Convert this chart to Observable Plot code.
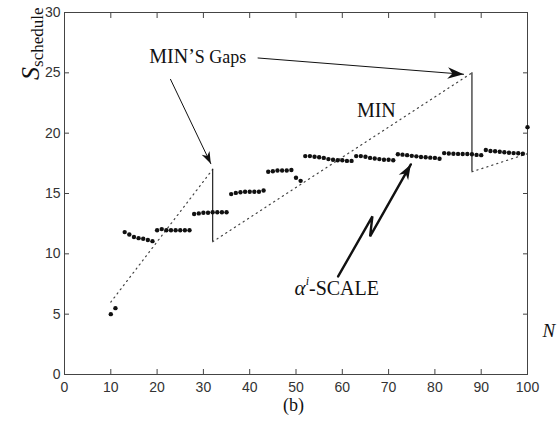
<!DOCTYPE html>
<html><head><meta charset="utf-8">
<script src="https://cdn.jsdelivr.net/npm/d3@7"></script>
<script src="https://cdn.jsdelivr.net/npm/@observablehq/plot@0.6"></script>
<style>body{margin:0;background:#fff;} svg{display:block;}</style>
</head><body><div id="chart"></div>
<script>
// ---- data ----
const nValues = [10,11,13,14,15,16,17,18,19,20,21,22,23,24,25,26,27,28,29,30,31,32,33,34,35,36,37,38,39,40,41,42,43,44,45,46,47,48,49,50,51,52,53,54,55,56,57,58,59,60,61,62,63,64,65,66,67,68,69,70,71,72,73,74,75,76,77,78,79,80,81,82,83,84,85,86,87,88,89,90,91,92,93,94,95,96,97,98,99,100];
const sValues = [5.0,5.5,11.8,11.6,11.4,11.3,11.25,11.15,11.05,11.95,12.05,11.95,11.95,11.95,11.95,11.95,11.95,13.3,13.35,13.4,13.4,13.45,13.45,13.45,13.45,14.95,15.05,15.1,15.15,15.15,15.15,15.15,15.25,16.8,16.85,16.9,16.9,16.9,16.95,16.3,16.05,18.1,18.1,18.05,18.0,17.95,17.85,17.8,17.75,17.75,17.7,17.7,18.1,18.1,18.05,17.95,17.9,17.85,17.8,17.8,17.75,18.25,18.22,18.18,18.12,18.08,18.03,18.0,17.97,17.95,17.88,18.35,18.32,18.3,18.28,18.27,18.27,18.25,18.2,18.18,18.6,18.52,18.5,18.46,18.42,18.38,18.35,18.33,18.3,20.5];
const xTicks = [0,10,20,30,40,50,60,70,80,90,100];
const yTicks = [0,5,10,15,20,25,30];
// MIN curve (dotted), three segments
const minSegment = [1,1,2,2,3,3];
const minN = [10,32,32,88,88,100];
const minS = [6,17,11,25,16.8,18.3];
// MIN's gaps (vertical lines)
const gapN = [32,88];
const gapLow = [11,16.8];
const gapHigh = [17,25];
// annotation texts
const labelText = ["MIN’S Gaps","MIN","α^i-SCALE"];
const labelN = [28.8,67.35,49.7];
const labelS = [26.35,21.87,7.08];
// annotation arrows (polylines, last point = tip)
const arrowId = [1,1,2,2,3,3,3,3];
const arrowN = [22.9,31.6,41.8,86.2,59.1,66.5,66.0,74.8];
const arrowS = [24.46,17.47,26.23,24.88,8.13,13.1,11.44,17.41];
const xLabel = "N";
const yLabel = "Sschedule";
const caption = "(b)";

// ---- layout ----
const width = 559, height = 421, mL = 64, mR = 32, mT = 12, mB = 47;
const kx = (width - mL - mR) / 100, ky = (height - mT - mB) / 30;

const points = nValues.map((n, i) => ({n, s: sValues[i]}));
const minLine = minN.map((n, i) => ({n, s: minS[i], seg: minSegment[i]}));
const gaps = gapN.map((n, i) => ({n, lo: gapLow[i], hi: gapHigh[i]}));
const arrows = arrowN.map((n, i) => ({n, s: arrowS[i], id: arrowId[i]}));
const arrowIds = [...new Set(arrowId)];
const heads = arrowIds.map(id => {
  const pts = arrows.filter(d => d.id === id);
  const a = pts[pts.length - 2], b = pts[pts.length - 1];
  const ang = Math.atan2(-(b.s - a.s) * ky, (b.n - a.n) * kx) * 180 / Math.PI;
  return {id, n: b.n, s: b.s, angle: ang};
});
const headSize = {1: 12, 2: 16, 3: 15};
const arrowWidth = {1: 1, 2: 1, 3: 2.4};

const headSymbol = {
  draw(context, size) {
    const L = Math.sqrt(size / Math.PI);
    const w = L * 0.36;
    context.moveTo(0, 0);
    context.lineTo(-L, -w);
    context.lineTo(-0.7 * L, 0);
    context.lineTo(-L, w);
    context.closePath();
  }
};

const serif = "Liberation Serif, Times New Roman, serif";
const sans = "Liberation Sans, Arial, sans-serif";

const chart = Plot.plot({
  width, height, marginLeft: mL, marginRight: mR, marginTop: mT, marginBottom: mB,
  x: {domain: [0, 100]},
  y: {domain: [0, 30]},
  style: {background: "white", color: "#333", fontFamily: sans},
  marks: [
    Plot.axisX(xTicks, {anchor: "bottom", tickSize: -5, tickFormat: () => "", label: null, stroke: "#444"}),
    Plot.axisX(xTicks, {anchor: "top", tickSize: -5, tickFormat: () => "", label: null, stroke: "#444"}),
    Plot.axisY(yTicks, {anchor: "left", tickSize: -5, tickFormat: () => "", label: null, stroke: "#444"}),
    Plot.axisY(yTicks, {anchor: "right", tickSize: -5, tickFormat: () => "", label: null, stroke: "#444"}),
    Plot.axisX(xTicks, {anchor: "bottom", tickSize: 0, tickPadding: 8, label: null, fontSize: 14, fill: "#333"}),
    Plot.axisY(yTicks, {anchor: "left", tickSize: 0, tickPadding: 4, label: null, fontSize: 14, fill: "#333"}),
    Plot.frame({stroke: "#444"}),
    Plot.line(minLine, {x: "n", y: "s", z: "seg", stroke: "#444", strokeWidth: 1.2, strokeDasharray: "1.2,4"}),
    Plot.ruleX(gaps, {x: "n", y1: "lo", y2: "hi", stroke: "#222", strokeWidth: 1.2}),
    Plot.dot(points, {x: "n", y: "s", r: 2.2, fill: "#111", stroke: "none"}),
    ...arrowIds.map(id => Plot.line(arrows.filter(d => d.id === id), {x: "n", y: "s", stroke: "#111", strokeWidth: arrowWidth[id], strokeLinejoin: "miter"})),
    ...heads.map(h => Plot.dot([h], {x: "n", y: "s", rotate: "angle", r: headSize[h.id], symbol: headSymbol, fill: "#111", stroke: "none"})),
    ...labelText.map((t, i) => Plot.text([t], {x: () => labelN[i], y: () => labelS[i], text: d => d, textAnchor: i === 2 ? "start" : "middle", fontFamily: serif, fontSize: 20, fill: "#111"})),
    Plot.text([xLabel], {frameAnchor: "bottom-right", text: d => d, textAnchor: "start", dx: 15, dy: -38, fontFamily: serif, fontStyle: "italic", fontSize: 19, fill: "#111"}),
    Plot.text([caption], {frameAnchor: "bottom", text: d => d, dx: -2.5, dy: 36, fontFamily: serif, fontSize: 18, fill: "#111"}),
    Plot.text([yLabel], {frameAnchor: "top-left", text: d => d, rotate: -90, textAnchor: "end", dx: -43, dy: -5, fontFamily: serif, fontSize: 25, fill: "#111"})
  ]
});
document.getElementById("chart").appendChild(chart);

// rich text formatting (subscripts, superscripts, small caps)
const svg = d3.select(chart);
function rich(content, parts) {
  const t = svg.selectAll("text").filter(function() { return this.textContent === content; });
  if (t.empty()) return;
  t.text(null);
  for (const p of parts) {
    const s = t.append("tspan").text(p.text);
    for (const k in p.attrs) s.attr(k, p.attrs[k]);
  }
}
rich(yLabel, [
  {text: "S", attrs: {"font-style": "italic", "font-size": 26}},
  {text: "schedule", attrs: {"font-size": 17, dy: 4}}
]);
rich(labelText[0], [
  {text: "MIN’", attrs: {"font-size": 20}},
  {text: "S Gaps", attrs: {"font-size": 18}}
]);
rich(labelText[2], [
  {text: "α", attrs: {"font-style": "italic", "font-size": 21}},
  {text: "i", attrs: {"font-style": "italic", "font-size": 12, dy: -10}},
  {text: "-SCALE", attrs: {"font-size": 20, dy: 10}}
]);
</script>
</body></html>
